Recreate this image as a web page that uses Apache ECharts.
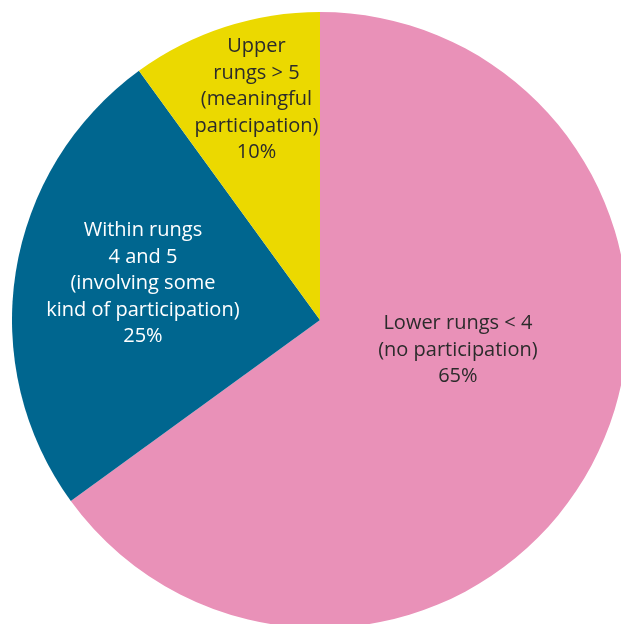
<!DOCTYPE html>
<html>
<head>
<meta charset="utf-8">
<script src="https://cdn.jsdelivr.net/npm/echarts@6/dist/echarts.min.js"></script>
<style>
html,body{margin:0;padding:0;background:#fff;}
#chart{width:621px;height:624px;}
</style>
</head>
<body>
<div id="chart"></div>
<script>
const categories = [
  "Lower rungs < 4\n(no participation)",
  "Within rungs\n4 and 5\n(involving some\nkind of participation)",
  "Upper\nrungs > 5\n(meaningful\nparticipation)"
];
const values = [65, 25, 10];
const colors = ["#E991B8", "#00668F", "#EBD900"];
const labelColors = ["#2b2b2b", "#ffffff", "#2b2b2b"];
const labelShift = [[-2, -41], [-22, -12], [-15, -71]];

const chart = echarts.init(document.getElementById('chart'), null, {renderer: 'canvas'});
chart.setOption({
  animation: false,
  series: [{
    type: 'pie',
    center: [320, 320],
    radius: 308,
    startAngle: 90,
    clockwise: true,
    avoidLabelOverlap: false,
    label: {
      show: true,
      position: 'inside',
      fontFamily: 'Open Sans',
      fontSize: 20,
      lineHeight: 26.5,
      align: 'center',
      formatter: p => p.name + '\n' + p.value + '%'
    },
    labelLine: {show: false},
    itemStyle: {borderWidth: 0},
    emphasis: {disabled: true},
    labelLayout: p => ({dx: labelShift[p.dataIndex][0], dy: labelShift[p.dataIndex][1]}),
    data: categories.map((c, i) => ({
      name: c,
      value: values[i],
      itemStyle: {color: colors[i]},
      label: {color: labelColors[i]}
    }))
  }]
});
</script>
</body>
</html>
